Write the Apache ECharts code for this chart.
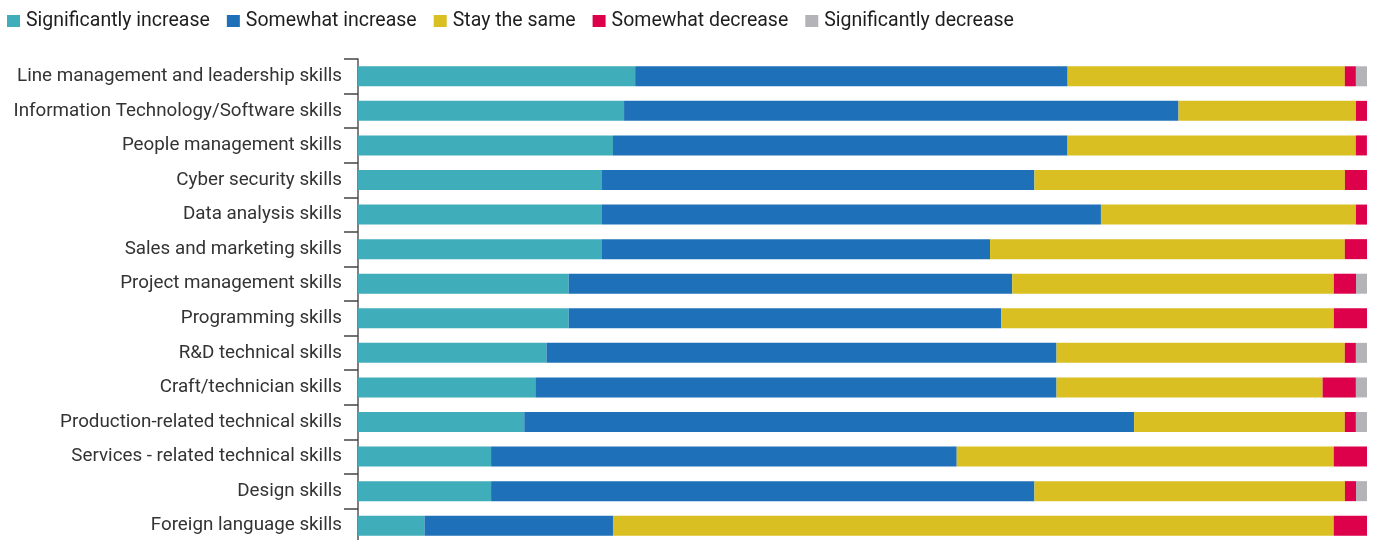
<!DOCTYPE html>
<html>
<head>
<meta charset="utf-8">
<script src="https://cdn.jsdelivr.net/npm/echarts@6/dist/echarts.min.js"></script>
<style>
  html, body { margin: 0; padding: 0; background: #fff; }
  #chart { width: 1374px; height: 540px; }
</style>
</head>
<body>
<div id="chart"></div>
<script>
// Skills whose demand is expected to change (share of respondents, %)
const categories = [
  'Line management and leadership skills',
  'Information Technology/Software skills',
  'People management skills',
  'Cyber security skills',
  'Data analysis skills',
  'Sales and marketing skills',
  'Project management skills',
  'Programming skills',
  'R&D technical skills',
  'Craft/technician skills',
  'Production-related technical skills',
  'Services - related technical skills',
  'Design skills',
  'Foreign language skills'
];

const significantlyIncrease = [27.47, 26.37, 25.27, 24.18, 24.18, 24.18, 20.88, 20.88, 18.68, 17.58, 16.48, 13.19, 13.19, 6.59];
const somewhatIncrease      = [42.86, 54.95, 45.05, 42.86, 49.45, 38.46, 43.96, 42.86, 50.55, 51.65, 60.44, 46.15, 53.85, 18.68];
const stayTheSame           = [27.47, 17.58, 28.57, 30.77, 25.27, 35.16, 31.87, 32.97, 28.57, 26.37, 20.88, 37.36, 30.77, 71.43];
const somewhatDecrease      = [1.10, 1.10, 1.10, 2.20, 1.10, 2.20, 2.20, 3.30, 1.10, 3.30, 1.10, 3.30, 1.10, 3.30];
const significantlyDecrease = [1.10, 0, 0, 0, 0, 0, 1.10, 0, 1.10, 1.10, 1.10, 0, 1.10, 0];

const seriesDefs = [
  { name: 'Significantly increase', data: significantlyIncrease, color: '#40adbb' },
  { name: 'Somewhat increase', data: somewhatIncrease, color: '#1e70b8' },
  { name: 'Stay the same', data: stayTheSame, color: '#d9bf22' },
  { name: 'Somewhat decrease', data: somewhatDecrease, color: '#dd004b' },
  { name: 'Significantly decrease', data: significantlyDecrease, color: '#b4b4b8' }
];

const chart = echarts.init(document.getElementById('chart'), null, { renderer: 'canvas' });

chart.setOption({
  animation: false,
  textStyle: { fontFamily: 'Roboto, sans-serif' },
  legend: {
    left: 2,
    top: 6,
    itemWidth: 13,
    itemHeight: 12,
    itemGap: 17,
    icon: 'rect',
    textStyle: { fontSize: 19.5, color: '#1e1e1e', fontFamily: 'Roboto', padding: [0, 0, 0, 1] },
    data: seriesDefs.map(s => s.name)
  },
  grid: {
    left: 358,
    right: 7,
    top: 59,
    height: 484,
    containLabel: false,
    outerBoundsMode: 'none'
  },
  xAxis: {
    type: 'value',
    min: 0,
    max: 100,
    show: false
  },
  yAxis: {
    type: 'category',
    inverse: true,
    data: categories,
    axisLine: { show: true, lineStyle: { color: '#555', width: 1.5 } },
    axisTick: { show: true, length: 14, lineStyle: { color: '#444', width: 1.5 } },
    axisLabel: { fontSize: 18.8, color: '#333', margin: 16, fontFamily: 'Roboto', padding: [3, 0, 0, 0] }
  },
  series: seriesDefs.map(s => ({
    name: s.name,
    type: 'bar',
    stack: 'total',
    barWidth: 20,
    data: s.data,
    itemStyle: { color: s.color },
    emphasis: { disabled: true }
  }))
});
</script>
</body>
</html>
